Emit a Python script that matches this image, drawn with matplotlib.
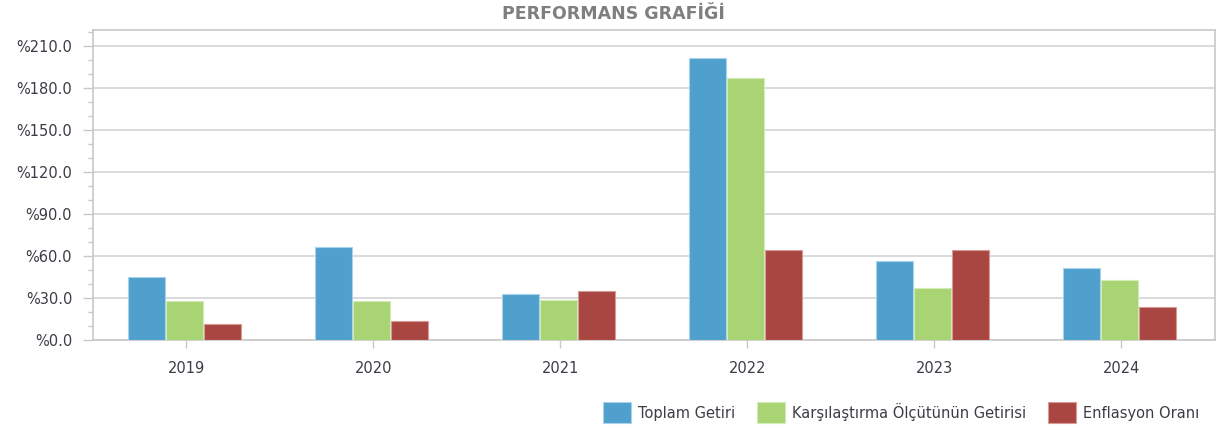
import numpy as np
from matplotlib import pyplot as plt
from matplotlib.ticker import MultipleLocator, FuncFormatter

years = ["2019", "2020", "2021", "2022", "2023", "2024"]
toplam = [45.0, 66.2, 32.9, 201.6, 56.2, 51.7]
karsilastirma = [28.1, 28.1, 28.5, 186.9, 37.1, 42.6]
enflasyon = [11.2, 13.8, 35.0, 64.3, 64.1, 23.8]

names = ["Toplam Getiri", "Karşılaştırma Ölçütünün Getirisi", "Enflasyon Oranı"]
colors = ["#4FA0CD", "#A8D473", "#AA4641"]
edges = ["#A9D3EC", "#D3EBB6", "#D89A97"]

fig = plt.figure(figsize=(12.27, 4.30), dpi=100)
ax = fig.add_axes([0.0758, 0.2093, 0.9142, 0.7207])

x = np.arange(len(years))
w = 0.198
series = [toplam, karsilastirma, enflasyon]
for i, vals in enumerate(series):
    ax.bar(x + (i - 1) * 0.205 - 0.01, vals, w, color=colors[i], edgecolor=edges[i],
           linewidth=0.8, label=names[i], zorder=3)

ax.set_xlim(-0.5, 5.5)
ax.set_ylim(0, 221.4)
ax.set_xticks(x)
ax.set_xticklabels(years)
ax.yaxis.set_major_locator(MultipleLocator(30))
ax.yaxis.set_minor_locator(MultipleLocator(10))
ax.yaxis.set_major_formatter(FuncFormatter(lambda v, p: "%" + f"{v:.1f}"))
ax.grid(axis="y", which="major", color="#D4D4D4", linewidth=1.2, zorder=0)

for s in ax.spines.values():
    s.set_color("#C8C8C8")
    s.set_linewidth(1.2)
ax.tick_params(axis="y", which="major", length=7, color="#C8C8C8", width=1,
               labelsize=10.5, labelcolor="#3C3C46", pad=8)
ax.tick_params(axis="y", which="minor", length=3.6, color="#C8C8C8", width=1)
ax.tick_params(axis="x", length=6, color="#C8C8C8", width=1,
               labelsize=10.5, labelcolor="#3C3C46", pad=9)

fig.text(0.5, 0.968, "PERFORMANS GRAFİĞİ", ha="center", va="center",
         fontsize=12.5, fontweight="bold", color="#7F7F7F")

fig.legend(loc="center right", bbox_to_anchor=(0.988, 0.04), ncol=3, frameon=False,
           fontsize=10.5, handlelength=1.9, handleheight=1.8, handletextpad=0.5,
           columnspacing=1.5, labelcolor="#3C3C46")

fig.savefig("out.png", dpi=100)
